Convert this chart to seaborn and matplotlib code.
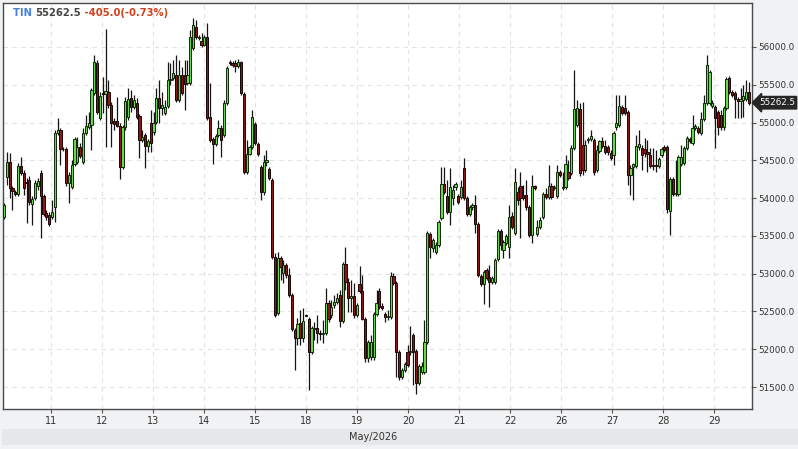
import numpy as np
import pandas as pd
import matplotlib
matplotlib.use("Agg")
import matplotlib.pyplot as plt
from matplotlib.patches import Rectangle
import seaborn as sns

symbol = "TIN"
last_price = 55262.5
change = -405.0
change_pct = -0.73
month_label = "May/2026"
day_labels = ["11", "12", "13", "14", "15", "18", "19", "20", "21", "22", "26", "27", "28", "29"]
y_ticks = [51500, 52000, 52500, 53000, 53500, 54000, 54500, 55000, 55500, 56000]

opens = [
    53750, 54279, 54478, 54134, 54081, 54054, 54425, 54332, 54213, 54240,
    53922, 54001, 54160, 54332, 54028, 53803, 53777, 53750, 53882, 54862,
    54901, 54650, 54650, 54200, 54147, 54451, 54478, 54676, 54478, 54862,
    54941, 54968, 55391, 55788, 55060, 55391, 55378, 55404, 55232, 55021,
    55021, 54954, 54412, 54941, 55074, 55325, 55206, 55259, 55087, 54769,
    54835, 54690, 54994, 54875, 55007, 55325, 55193, 55126, 55219, 55563,
    55590, 55629, 55299, 55629, 55629, 55524, 55524, 55987, 56265, 56119,
    56079, 56026, 56132, 55074, 54782, 54716, 54835, 54928, 54835, 55259,
    55801, 55788, 55788, 55749, 55801, 55378, 54346, 54584, 54676, 54981,
    54716, 54412, 54081, 54478, 54385, 54240, 53221, 52479, 53207, 53009,
    53115, 52982, 52718, 52255, 52149, 52347, 52149, 52453, 52400, 51963,
    52268, 52281, 52215, 52202, 52215, 52612, 52453, 52585, 52625, 52718,
    52374, 53128, 52890, 52678, 52705, 52453, 52863, 52771, 52400, 51884,
    51897, 51897, 52466, 52771, 52572, 52466, 52426, 52426, 52969, 52877,
    51963, 51633, 51725, 51963, 51963, 52188, 51977, 51553, 51699, 51699,
    52096, 53525, 53340, 53287, 53379, 53737, 54187, 54028, 53816, 54001,
    54147, 54028, 54015, 54399, 54001, 53790, 53882, 53909, 53657, 52969,
    52863, 53049, 52956, 52890, 52890, 53194, 53565, 53313, 53406, 53353,
    53763, 53538, 54081, 54160, 54041, 54041, 53882, 53512, 54160, 53525,
    53618, 53750, 54054, 54015, 54160, 54134, 54028, 54346, 54134, 54147,
    54346, 54332, 54663, 54968, 55179, 54703, 54372, 54769, 54782, 54769,
    54372, 54623, 54756, 54690, 54676, 54597, 54571, 54941, 54968, 55206,
    55193, 55140, 54306, 54412, 54425, 54676, 54663, 54650, 54610, 54571,
    54438, 54438, 54425, 54571, 54676, 54676, 53830, 54253, 54054, 54054,
    54451, 54465, 54663, 54782, 54729, 54928, 54928, 54862, 55047, 55259,
    55259, 55219, 55206, 55140, 55100, 54941, 55193, 55590, 55404, 55391,
    55312, 55285, 55299, 55312, 55404,
]

closes = [
    53909, 54478, 54134, 54094, 54054, 54425, 54332, 54134, 54200, 53949,
    53988, 54200, 54226, 54028, 53790, 53750, 53657, 53816, 54862, 54901,
    54650, 54645, 54200, 54306, 54438, 54782, 54676, 54557, 54862, 54954,
    54994, 55431, 55801, 55140, 55351, 55378, 55418, 55232, 54994, 54981,
    54954, 54412, 54941, 55285, 55312, 55206, 55299, 55074, 54769, 54809,
    54690, 54756, 54729, 54994, 55325, 55193, 55232, 55206, 55563, 55576,
    55656, 55299, 55629, 55391, 55510, 55629, 56132, 56291, 56132, 56132,
    56026, 56132, 55060, 54769, 54716, 54822, 54928, 54769, 55259, 55722,
    55788, 55762, 55749, 55801, 55391, 54346, 54584, 54676, 55074, 54729,
    54584, 54081, 54478, 54504, 54266, 53221, 52453, 53207, 53088, 53115,
    52982, 52718, 52268, 52149, 52334, 52149, 52374, 52440, 51963, 52281,
    52281, 52215, 52202, 52215, 52612, 52400, 52559, 52625, 52678, 52374,
    53128, 52890, 52678, 52705, 52453, 52585, 52771, 52400, 51884, 52096,
    52096, 52466, 52612, 52559, 52545, 52426, 52440, 52969, 52877, 51963,
    51633, 51725, 51805, 51791, 51977, 51963, 51553, 51778, 51778, 52096,
    53538, 53353, 53446, 53379, 53684, 54187, 54081, 53816, 54147, 54107,
    54187, 53949, 54147, 54001, 53790, 53882, 53909, 53657, 52982, 52863,
    53022, 52943, 52890, 52943, 53181, 53565, 53379, 53419, 53499, 53750,
    53618, 54213, 53975, 54001, 54001, 53882, 53512, 54160, 54134, 53618,
    53710, 54054, 54015, 54160, 54015, 54147, 54346, 54306, 54147, 54451,
    54266, 54663, 55179, 55193, 54332, 54372, 54703, 54782, 54822, 54346,
    54637, 54756, 54690, 54610, 54610, 54531, 54862, 54994, 55219, 55126,
    55126, 54306, 54399, 54451, 54690, 54716, 54571, 54597, 54584, 54425,
    54425, 54425, 54518, 54650, 54637, 53856, 54253, 54054, 54068, 54544,
    54544, 54663, 54796, 54756, 54928, 54954, 54875, 55047, 55259, 55762,
    55669, 55259, 55060, 54941, 54941, 55193, 55576, 55404, 55365, 55312,
    55285, 55312, 55351, 55404, 55262.5,
]

highs = [
    53935, 54610, 54597, 54160, 54107, 54465, 54544, 54372, 54266, 54293,
    54028, 54240, 54266, 54372, 54054, 53843, 53816, 53975, 54901, 55060,
    54928, 54676, 54676, 54346, 54504, 54809, 54809, 54729, 54928, 55100,
    55140, 55457, 55894, 55828, 55404, 55603, 56238, 55563, 55272, 55060,
    55338, 54994, 54968, 55338, 55457, 55431, 55365, 55325, 55113, 54901,
    54862, 54782, 55166, 55140, 55457, 55563, 55404, 55299, 55801, 55788,
    55828, 55894, 55828, 55735, 55828, 55828, 56225, 56384, 56357, 56159,
    56185, 56159, 56318, 55524, 54809, 54849, 55034, 54968, 55299, 55749,
    55828, 55815, 55828, 55841, 55815, 55404, 54769, 54703, 55166, 55007,
    54743, 54438, 54571, 54637, 54412, 54266, 53273, 53287, 53234, 53181,
    53141, 53075, 52744, 52281, 52413, 52519, 52545, 52466, 52426, 52307,
    52360, 52453, 52255, 52387, 52810, 52651, 52651, 52718, 52744, 52784,
    53154, 53353, 52943, 52916, 52877, 52612, 53102, 52982, 52426, 52122,
    52188, 52493, 52784, 52810, 52612, 52493, 52519, 53022, 53009, 52903,
    51990, 51752, 51831, 52056, 52307, 52215, 52003, 51805, 51831, 52387,
    53565, 53551, 53472, 53419, 53710, 54412, 54412, 54240, 54399, 54174,
    54213, 54054, 54240, 54531, 54028, 53909, 53935, 54041, 53684, 52996,
    53049, 53075, 53115, 52969, 53207, 53591, 53591, 53446, 53525, 53909,
    53816, 54399, 54147, 54346, 54174, 54240, 53909, 54306, 54174, 53710,
    53750, 54081, 54134, 54438, 54200, 54174, 54438, 54372, 54346, 54571,
    54504, 54703, 55696, 55299, 55259, 55272, 54769, 54809, 54901, 54796,
    54703, 54769, 54809, 54769, 54703, 54637, 54888, 55365, 55365, 55232,
    55365, 55166, 54438, 54465, 54835, 54901, 54703, 54796, 54769, 54663,
    54663, 54637, 54544, 54676, 54703, 54703, 54279, 54279, 54504, 54571,
    54703, 54690, 54822, 54809, 55100, 54981, 54954, 55140, 55365, 55894,
    55696, 55299, 55232, 55166, 55166, 55219, 55603, 55616, 55431, 55418,
    55338, 55457, 55497, 55563, 55537,
]

lows = [
    53724, 54174, 54001, 53843, 54028, 54028, 54306, 54041, 53671, 53909,
    53644, 53975, 54107, 53472, 53763, 53710, 53631, 53724, 53684, 54835,
    54438, 54623, 54160, 53935, 54121, 54425, 54451, 54531, 54451, 54835,
    54915, 54637, 55365, 55113, 55034, 55126, 54676, 55193, 54676, 54901,
    54941, 54253, 54385, 54901, 55034, 55140, 55179, 55047, 54531, 54743,
    54399, 54610, 54610, 54835, 54981, 54994, 55100, 55100, 55193, 55497,
    55563, 55272, 55272, 55365, 55166, 55497, 55497, 55960, 56106, 56093,
    56000, 56013, 55034, 54743, 54451, 54690, 54809, 54544, 54809, 55232,
    55762, 55735, 55669, 55722, 55365, 54319, 54319, 54571, 54650, 54703,
    54557, 53975, 54041, 54425, 54240, 53194, 52426, 52453, 52916, 52877,
    52943, 52691, 52241, 51725, 52056, 52056, 52096, 52440, 51461, 51937,
    52122, 52082, 52122, 52082, 52188, 52360, 52413, 52545, 52598, 52294,
    52347, 52784, 52493, 52493, 52413, 52426, 52744, 52387, 51831, 51831,
    51857, 51857, 52440, 52532, 52519, 52360, 52387, 52400, 52850, 51633,
    51593, 51610, 51699, 51765, 51924, 51527, 51407, 51527, 51672, 51672,
    52069, 53207, 53287, 53260, 53353, 53710, 54054, 53790, 53644, 53909,
    54107, 53922, 53988, 53975, 53763, 53763, 53843, 53538, 52956, 52837,
    52598, 52916, 52559, 52863, 52863, 53168, 53313, 53207, 53379, 53207,
    53591, 53512, 53909, 53472, 53975, 53843, 53485, 53406, 54107, 53499,
    53591, 53724, 53988, 53988, 53988, 54107, 54001, 54279, 54107, 54121,
    54240, 54306, 54637, 54941, 54293, 54306, 54346, 54729, 54756, 54306,
    54346, 54597, 54663, 54584, 54571, 54504, 54438, 54901, 54941, 55100,
    55100, 54174, 54041, 53975, 54399, 54637, 54372, 54544, 54346, 54399,
    54372, 54346, 54399, 54544, 54610, 53803, 53512, 54028, 54028, 54028,
    54425, 54438, 54637, 54729, 54703, 54901, 54849, 54835, 55021, 55232,
    55232, 55193, 54663, 54835, 54901, 54901, 55166, 55378, 55338, 55060,
    55060, 55060, 55074, 55285, 55232,
]

# ---------------------------------------------------------------- style
sns.set_theme(style="white")
plt.rcParams["font.family"] = ["DejaVu Sans"]

df = pd.DataFrame({"open": opens, "high": highs, "low": lows, "close": closes})
df["idx"] = np.arange(len(df))
df["up"] = df["close"] >= df["open"]
df["bottom"] = df[["open", "close"]].min(axis=1)
df["height"] = (df["close"] - df["open"]).abs().clip(lower=8)

W, H = 798, 449
fig = plt.figure(figsize=(W / 100, H / 100), dpi=100, facecolor="#f1f2f4")
ax = fig.add_axes([3 / W, 40 / H, 749 / W, 406 / H])
ax.set_facecolor("white")

step = 2.822  # px per candle
ax.set_xlim((3 - 4) / step, (752 - 4) / step)
ax.set_ylim(51209, 56582)

# grid
ax.grid(True, which="major", color="#e2e2e2", linestyle=(0, (4, 4)), linewidth=0.8, zorder=0)
ax.set_axisbelow(True)

# wicks
ax.vlines(df["idx"], df["low"], df["high"], color="#151515", linewidth=0.9, zorder=2)

# bodies
up = df[df["up"]]
dn = df[~df["up"]]
ax.bar(up["idx"], up["height"], bottom=up["bottom"], width=0.78,
       color="#6ad84c", edgecolor="#0f2a08", linewidth=0.7, zorder=3)
ax.bar(dn["idx"], dn["height"], bottom=dn["bottom"], width=0.78,
       color="#8a1616", edgecolor="#1a0505", linewidth=0.7, zorder=3)

# x ticks (day boundaries)
first_tick = (51 - 4) / step
day_step = 51 / step
xt = [first_tick + k * day_step for k in range(len(day_labels))]
ax.set_xticks(xt)
ax.set_xticklabels(day_labels)
ax.tick_params(axis="x", direction="out", length=3, width=0.8, color="#555",
               labelsize=7, labelcolor="#333", pad=2, bottom=True)

# y ticks on the right
ax.yaxis.tick_right()
ax.set_yticks(y_ticks)
ax.set_yticklabels([f"{v:.1f}" for v in y_ticks])
ax.tick_params(axis="y", direction="out", length=3, width=0.8, color="#555",
               labelsize=6.3, labelcolor="#333", pad=1.5, right=True, left=False)

for s in ax.spines.values():
    s.set_visible(True)
    s.set_color("#4a4a4a")
    s.set_linewidth(1.0)

# header text
t1 = fig.text(13 / W, 1 - 13 / H, symbol + " ", color="#4a7fd8", fontsize=7.2,
              fontweight="bold", va="center", ha="left")
t2 = ax.annotate(f"{last_price}", xy=(1, 0.5), xycoords=t1, va="center", ha="left",
                 color="#444444", fontsize=7.2, fontweight="bold", annotation_clip=False)
t3 = ax.annotate(f" {change:.1f}({change_pct:.2f}%)", xy=(1, 0.5), xycoords=t2, va="center",
                 ha="left", color="#d0401a", fontsize=7.2, fontweight="bold", annotation_clip=False)

# last price tag
ax.annotate(f"{last_price}", xy=(1.0, last_price), xycoords=("axes fraction", "data"),
            xytext=(5, 0), textcoords="offset points", va="center", ha="left",
            color="white", fontsize=6.3,
            bbox=dict(boxstyle="larrow,pad=0.2", fc="#262626", ec="#262626"),
            annotation_clip=False, zorder=10)

# bottom band with month label
fig.patches.append(Rectangle((2 / W, 4 / H), 796 / W, 16 / H, transform=fig.transFigure,
                             facecolor="#e6e7e9", edgecolor="none", zorder=0))
fig.text(373 / W, 1 - 437 / H, month_label, ha="center", va="center", fontsize=7, color="#333")

fig.savefig("out.png", dpi=100, facecolor=fig.get_facecolor())
